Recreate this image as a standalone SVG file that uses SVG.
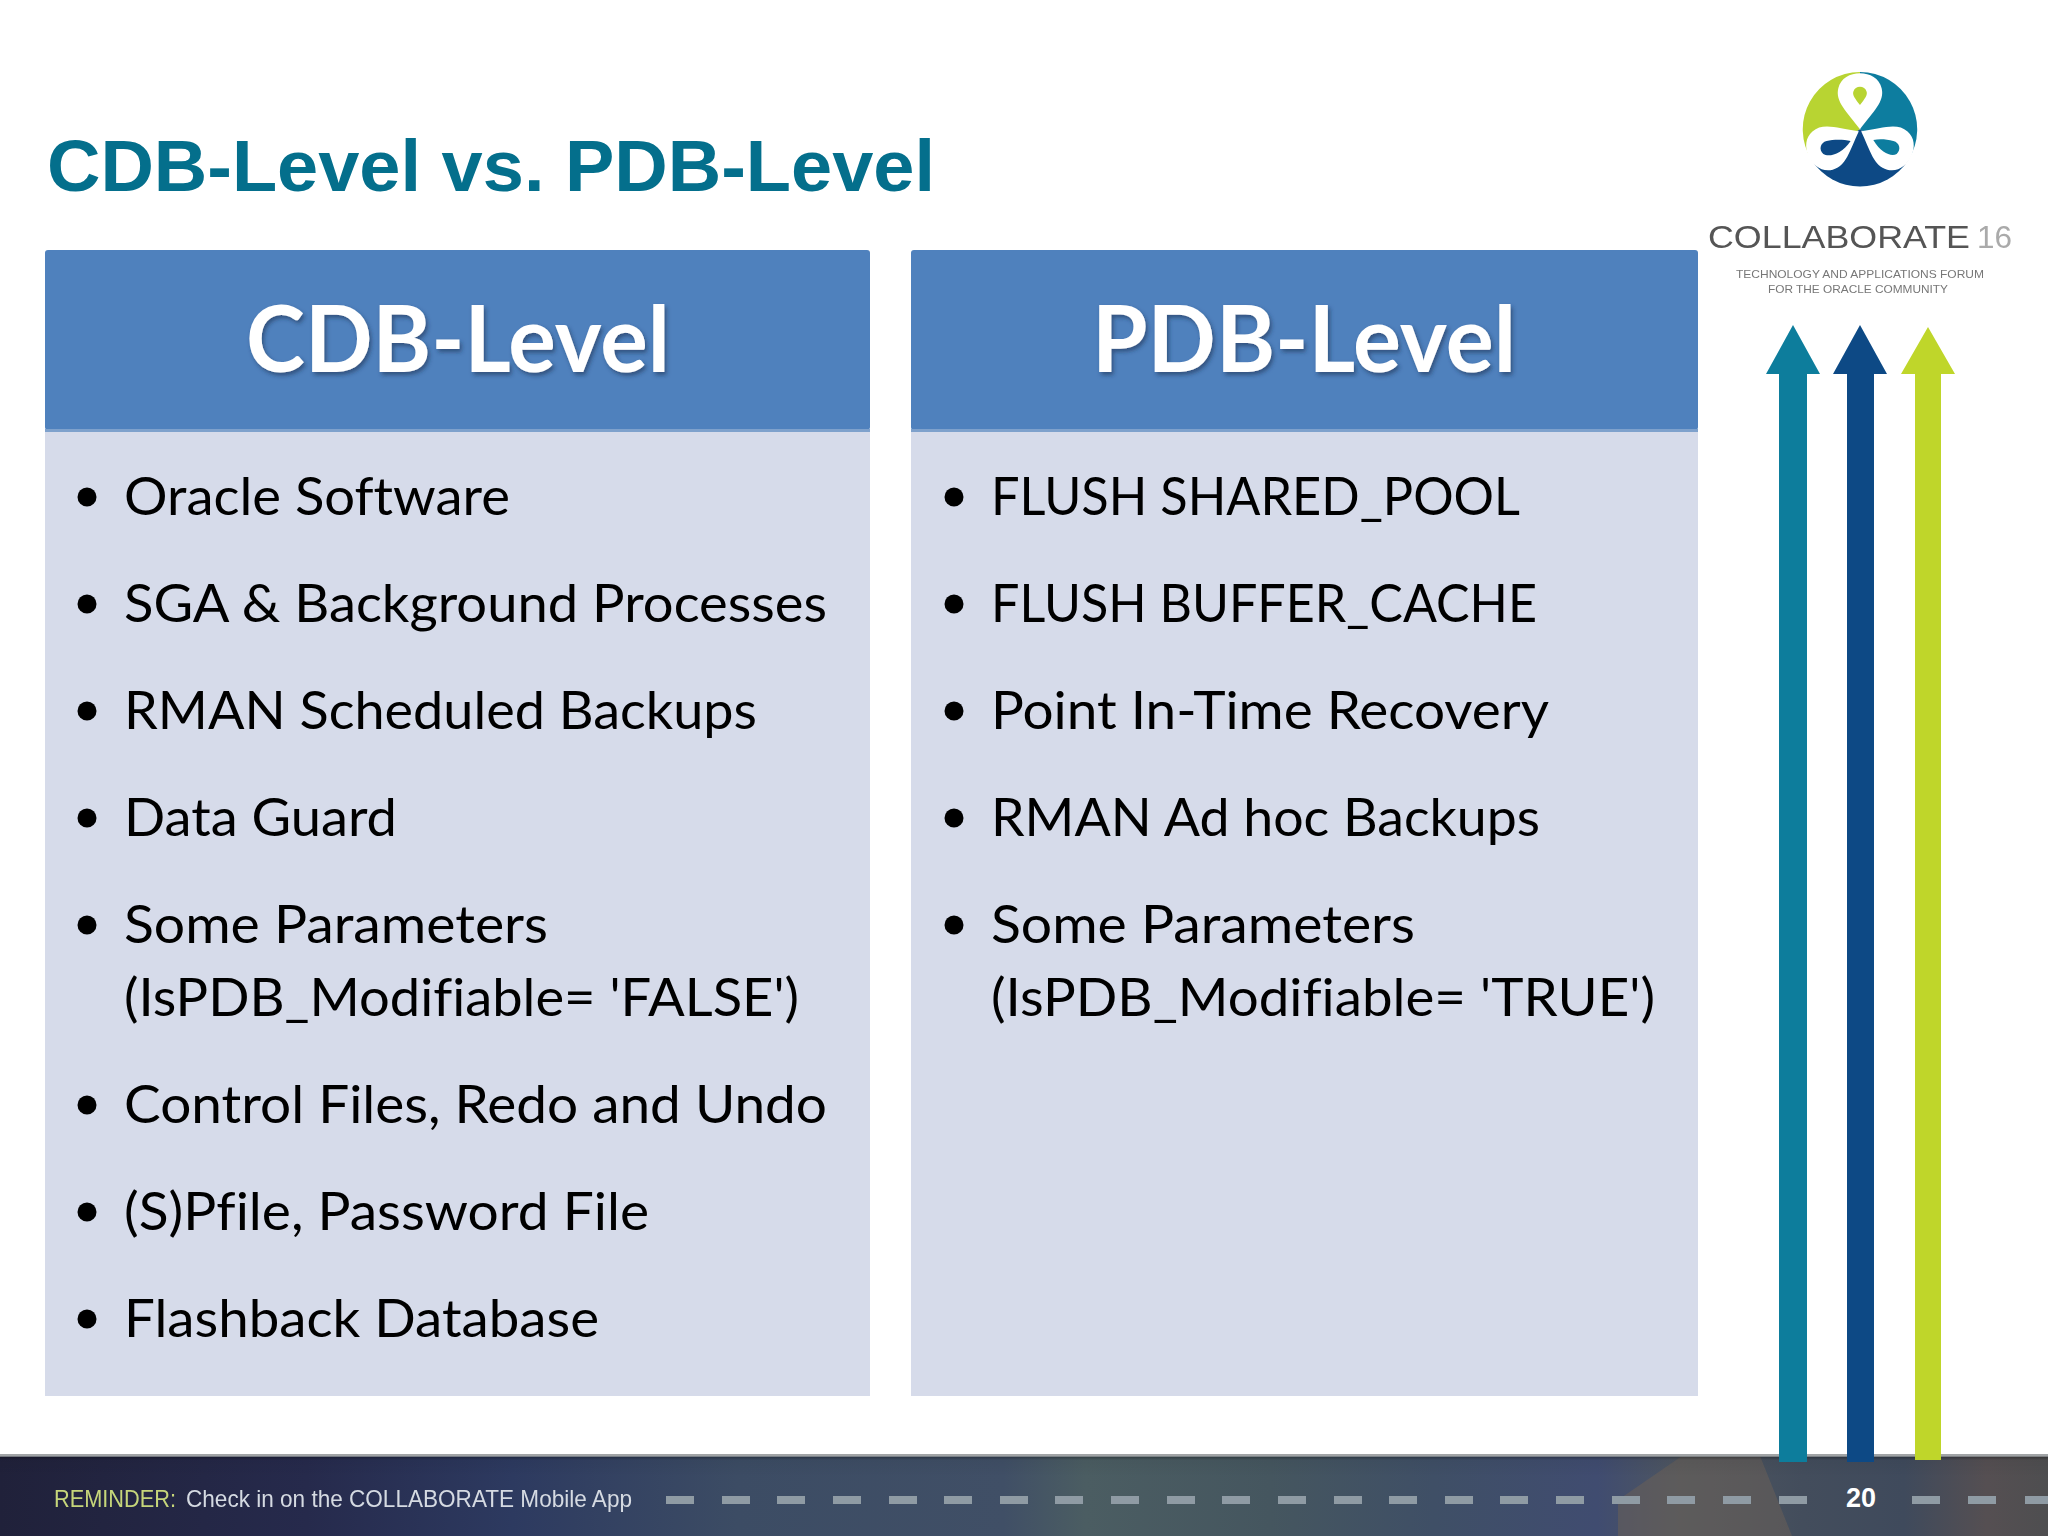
<svg xmlns="http://www.w3.org/2000/svg" width="2048" height="1536" viewBox="0 0 2048 1536">
<defs>
<style>
.title{font-family:"Liberation Sans",Arial,sans-serif;font-weight:700;font-size:73px;fill:#046f8c}
.hd{font-family:Lato,"Open Sans",sans-serif;font-weight:700;font-size:92px;fill:#fff;text-anchor:middle;filter:url(#ts);font-variant-ligatures:none}
.li{font-family:Lato,"Open Sans",sans-serif;font-size:53px;fill:#000;font-variant-ligatures:none}
.hdbox{fill:#4f81bd}
.body{fill:#d6dbea}
.sep{fill:#7ea1cc}
.dash{fill:#8f9ba4}
.ft{font-family:"Liberation Sans",Arial,sans-serif;font-size:24px}
.lg{font-family:"Liberation Sans",Arial,sans-serif}
</style>
<filter id="ts" x="-5%" y="-10%" width="110%" height="125%"><feDropShadow dx="2" dy="3" stdDeviation="2" flood-color="#1d3557" flood-opacity=".6"/></filter>
<filter id="soft"><feGaussianBlur stdDeviation="0.7"/></filter>
<filter id="softer" x="-30%" width="160%"><feGaussianBlur stdDeviation="10"/></filter>
<linearGradient id="foot" x1="0" x2="1" y1="0" y2="0">
<stop offset="0" stop-color="#20213a"/><stop offset=".15" stop-color="#262a4c"/><stop offset=".25" stop-color="#2d3a60"/><stop offset=".36" stop-color="#3c4c64"/><stop offset=".49" stop-color="#404f66"/><stop offset=".53" stop-color="#4b5d62"/><stop offset=".62" stop-color="#45565f"/><stop offset=".7" stop-color="#3f4f66"/><stop offset=".78" stop-color="#404c70"/><stop offset=".82" stop-color="#4e5660"/><stop offset=".88" stop-color="#434d5c"/><stop offset=".93" stop-color="#3f4a5c"/><stop offset=".97" stop-color="#554f52"/><stop offset="1" stop-color="#4e4e50"/>
</linearGradient>
<linearGradient id="fade" x1="0" x2="0" y1="0" y2="1"><stop offset="0" stop-color="#000" stop-opacity=".3"/><stop offset=".15" stop-color="#000" stop-opacity=".05"/><stop offset="1" stop-color="#000" stop-opacity="0"/></linearGradient>
<path id="petal" fill="#fff" d="M600 268C560 215 525 185 535 145C548 85 652 85 665 145C675 185 640 215 600 268Z"/>
</defs>
<rect width="2048" height="1536" fill="#fff"/>
<text id="title" class="title" x="47" y="191" textLength="888" lengthAdjust="spacingAndGlyphs">CDB-Level vs. PDB-Level</text>

<g id="cdb-column">
<rect class="body" x="45" y="431" width="825" height="965"/>
<rect class="hdbox" x="45" y="250" width="825" height="180" rx="3"/>
<rect class="sep" x="45" y="429" width="825" height="3"/>
<text class="hd" x="458" y="372" textLength="424" lengthAdjust="spacingAndGlyphs">CDB-Level</text>
<g id="cdb-bullets" fill="#000">
<circle cx="87" cy="497" r="9.5"/><circle cx="87" cy="604" r="9.5"/><circle cx="87" cy="711" r="9.5"/><circle cx="87" cy="818" r="9.5"/><circle cx="87" cy="925" r="9.5"/><circle cx="87" cy="1105" r="9.5"/><circle cx="87" cy="1212" r="9.5"/><circle cx="87" cy="1319" r="9.5"/>
</g>
<text class="li" x="124" y="515" textLength="386" lengthAdjust="spacingAndGlyphs">Oracle Software</text>
<text class="li" x="124" y="622" textLength="703" lengthAdjust="spacingAndGlyphs">SGA &amp; Background Processes</text>
<text class="li" x="124" y="729" textLength="633" lengthAdjust="spacingAndGlyphs">RMAN Scheduled Backups</text>
<text class="li" x="124" y="836" textLength="273" lengthAdjust="spacingAndGlyphs">Data Guard</text>
<text class="li" x="124" y="943" textLength="424" lengthAdjust="spacingAndGlyphs">Some Parameters</text>
<text class="li" x="124" y="1016" textLength="675" lengthAdjust="spacingAndGlyphs">(IsPDB_Modifiable= 'FALSE')</text>
<text class="li" x="124" y="1123" textLength="703" lengthAdjust="spacingAndGlyphs">Control Files, Redo and Undo</text>
<text class="li" x="124" y="1230" textLength="525" lengthAdjust="spacingAndGlyphs">(S)Pfile, Password File</text>
<text class="li" x="124" y="1337" textLength="475" lengthAdjust="spacingAndGlyphs">Flashback Database</text>
</g>

<g id="pdb-column">
<rect class="body" x="911" y="431" width="787" height="965"/>
<rect class="hdbox" x="911" y="250" width="787" height="180" rx="3"/>
<rect class="sep" x="911" y="429" width="787" height="3"/>
<text class="hd" x="1304" y="372" textLength="424" lengthAdjust="spacingAndGlyphs">PDB-Level</text>
<g id="pdb-bullets" fill="#000">
<circle cx="954" cy="497" r="9.5"/><circle cx="954" cy="604" r="9.5"/><circle cx="954" cy="711" r="9.5"/><circle cx="954" cy="818" r="9.5"/><circle cx="954" cy="925" r="9.5"/>
</g>
<text class="li" x="991" y="515" textLength="529" lengthAdjust="spacingAndGlyphs">FLUSH SHARED_POOL</text>
<text class="li" x="991" y="622" textLength="546" lengthAdjust="spacingAndGlyphs">FLUSH BUFFER_CACHE</text>
<text class="li" x="991" y="729" textLength="558" lengthAdjust="spacingAndGlyphs">Point In-Time Recovery</text>
<text class="li" x="991" y="836" textLength="549" lengthAdjust="spacingAndGlyphs">RMAN Ad hoc Backups</text>
<text class="li" x="991" y="943" textLength="424" lengthAdjust="spacingAndGlyphs">Some Parameters</text>
<text class="li" x="991" y="1016" textLength="664" lengthAdjust="spacingAndGlyphs">(IsPDB_Modifiable= 'TRUE')</text>
</g>

<g id="footer">
<rect x="0" y="1456" width="2048" height="80" fill="url(#foot)"/>
<path d="M1618 1536L1618 1500L1682 1456L1760 1456L1792 1536Z" fill="#6b6058" opacity=".55" filter="url(#soft)"/>
<rect x="0" y="1454" width="2048" height="3" fill="#8a8d90" opacity=".8"/>
<rect x="0" y="1457" width="2048" height="20" fill="url(#fade)"/>
</g>

<g id="arrows" filter="url(#soft)">
<path d="M1779 1462V374H1766L1793 325L1820 374H1807V1462Z" fill="#0a7d9c"/>
<path d="M1847 1462V374H1833L1860 325L1887 374H1874V1462Z" fill="#0b4a85"/>
<path d="M1915 1460V374H1901L1928 327L1955 374H1941V1460Z" fill="#bfd62b"/>
</g>

<g id="footer-text">
<g filter="url(#soft)">
<text class="ft" x="54" y="1507" fill="#c6d67a" textLength="122" lengthAdjust="spacingAndGlyphs">REMINDER:</text>
<text class="ft" x="186" y="1507" fill="#d5dae2" textLength="446" lengthAdjust="spacingAndGlyphs">Check in on the COLLABORATE Mobile App</text>
</g>
<g id="dashes" filter="url(#soft)">
<rect class="dash" x="666" y="1496" width="28" height="8"/><rect class="dash" x="722" y="1496" width="28" height="8"/><rect class="dash" x="777" y="1496" width="28" height="8"/><rect class="dash" x="833" y="1496" width="28" height="8"/><rect class="dash" x="889" y="1496" width="28" height="8"/><rect class="dash" x="944" y="1496" width="28" height="8"/><rect class="dash" x="1000" y="1496" width="28" height="8"/><rect class="dash" x="1055" y="1496" width="28" height="8"/><rect class="dash" x="1111" y="1496" width="28" height="8"/><rect class="dash" x="1167" y="1496" width="28" height="8"/><rect class="dash" x="1222" y="1496" width="28" height="8"/><rect class="dash" x="1278" y="1496" width="28" height="8"/><rect class="dash" x="1334" y="1496" width="28" height="8"/><rect class="dash" x="1389" y="1496" width="28" height="8"/><rect class="dash" x="1445" y="1496" width="28" height="8"/><rect class="dash" x="1500" y="1496" width="28" height="8"/><rect class="dash" x="1556" y="1496" width="28" height="8"/><rect class="dash" x="1612" y="1496" width="28" height="8"/><rect class="dash" x="1667" y="1496" width="28" height="8"/><rect class="dash" x="1723" y="1496" width="28" height="8"/><rect class="dash" x="1779" y="1496" width="28" height="8"/><rect class="dash" x="1912" y="1496" width="28" height="8"/><rect class="dash" x="1968" y="1496" width="28" height="8"/><rect class="dash" x="2025" y="1496" width="23" height="8"/>
</g>
<text x="1861" y="1507" fill="#fff" font-family="Liberation Sans,Arial,sans-serif" font-weight="700" font-size="27" text-anchor="middle">20</text>
</g>

<g id="logo">
<g filter="url(#soft)">
<g transform="translate(1660 40) scale(.3333)">
<path d="M600 268V96A172 172 0 0 0 455 360Z" fill="#b8d432"/>
<path d="M600 268V96A172 172 0 0 1 745 360Z" fill="#0f7d9f"/>
<path d="M600 268L455 360A172 172 0 0 0 745 360Z" fill="#0b4a85"/>
<use href="#petal"/>
<use href="#petal" transform="rotate(-118 600 272)"/>
<use href="#petal" transform="rotate(118 600 272)"/>
<path d="M600 195C585 175 577 165 580 155C585 135 615 135 620 155C623 165 615 175 600 195Z" fill="#b8d432"/>
<path d="M572 303C545 345 505 352 490 342C476 330 480 308 500 303C520 298 550 298 572 303Z" fill="#0b4a85"/>
<path d="M640 300C665 342 695 350 710 342C724 330 720 308 700 303C680 298 660 296 640 300Z" fill="#0f7d9f"/>
</g>
</g>
<g filter="url(#soft)">
<text class="lg" x="1708" y="248" font-size="32" fill="#555" textLength="262" lengthAdjust="spacingAndGlyphs">COLLABORATE</text>
<text class="lg" x="1977" y="248" font-size="32" fill="#aaa" textLength="35" lengthAdjust="spacingAndGlyphs">16</text>
<text class="lg" x="1736" y="278" font-size="11" fill="#777" textLength="248" lengthAdjust="spacingAndGlyphs">TECHNOLOGY AND APPLICATIONS FORUM</text>
<text class="lg" x="1768" y="293" font-size="11" fill="#777" textLength="180" lengthAdjust="spacingAndGlyphs">FOR THE ORACLE COMMUNITY</text>
</g>
</g>
</svg>
